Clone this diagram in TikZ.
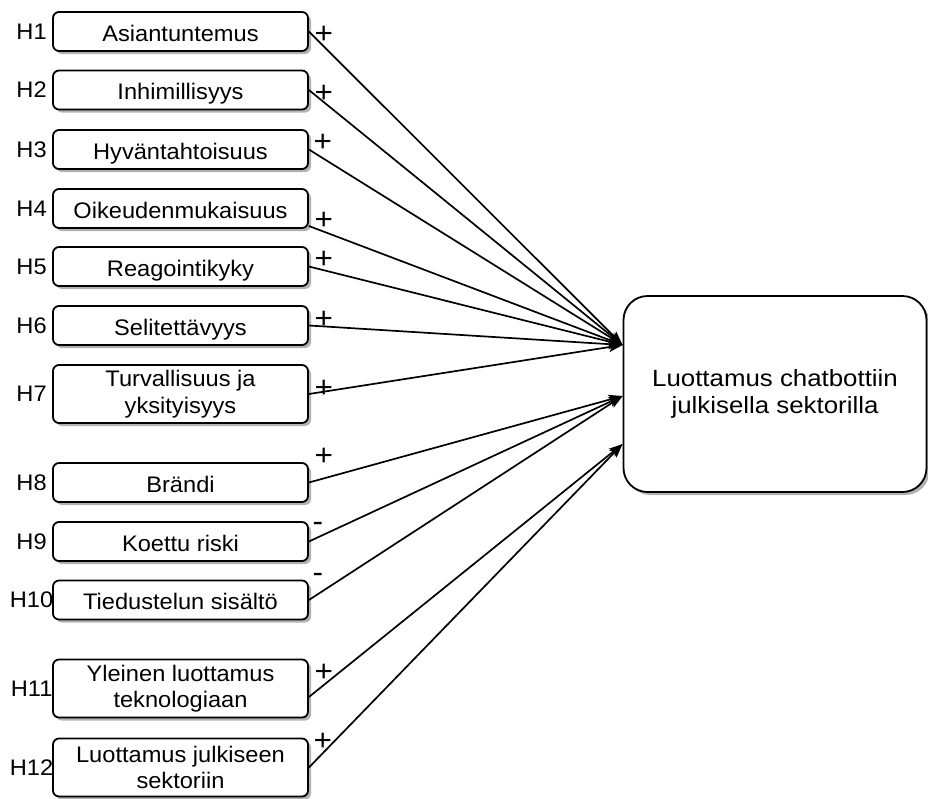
\documentclass[tikz,border=0pt]{standalone}
\usepackage{fontspec}
\setmainfont{Liberation Sans}[FakeStretch=1.05]
\newfontfamily\outcomefont{Liberation Sans}[FakeStretch=1.1]
\usetikzlibrary{arrows.meta,shadows}

\begin{document}
\begin{tikzpicture}[x=1pt,y=-1pt,
  every node/.style={font=\fontsize{22.5}{26.5}\selectfont},
  boxshadow/.style={drop shadow={shadow xshift=3pt,shadow yshift=-3pt,fill=black,opacity=0.3}},
  factor/.style={draw,rounded corners=6pt,line width=1.8pt,fill=white,
    minimum width=255pt,minimum height=39pt,align=center,inner sep=0pt,boxshadow,
    text height=24pt,text depth=5pt},
  tallfactor/.style={draw,rounded corners=6pt,line width=1.8pt,fill=white,
    minimum width=255pt,minimum height=58pt,align=center,inner sep=0pt,boxshadow},
  outcome/.style={draw,rounded corners=24pt,line width=1.8pt,fill=white,
    minimum width=303pt,minimum height=196pt,align=center,inner sep=0pt,boxshadow,
    font=\outcomefont\fontsize{23.5}{27}\selectfont},
  hyp/.style={inner sep=0pt},
  sign/.style={inner sep=0pt,font=\fontsize{30}{32}\selectfont},
  link/.style={line width=1.7pt,-{Stealth[length=14pt,width=10pt,inset=3.5pt]}}
]
\useasboundingbox (0,0) rectangle (928,798);

% factor boxes
\node[factor]     (b1)  at (180.5,31.5)  {Asiantuntemus};
\node[factor]     (b2)  at (180.5,90)    {Inhimillisyys};
\node[factor]     (b3)  at (180.5,149.5) {Hyväntahtoisuus};
\node[factor]     (b4)  at (180.5,208.5) {Oikeudenmukaisuus};
\node[factor]     (b5)  at (180.5,266.5) {Reagointikyky};
\node[factor]     (b6)  at (180.5,325.5) {Selitettävyys};
\node[tallfactor] (b7)  at (180.5,394)   {Turvallisuus ja\\yksityisyys};
\node[factor]     (b8)  at (180.5,482.5) {Brändi};
\node[factor]     (b9)  at (180.5,541.5) {Koettu riski};
\node[factor]     (b10) at (180.5,600)   {Tiedustelun sisältö};
\node[tallfactor] (b11) at (180.5,688.5) {Yleinen luottamus\\teknologiaan};
\node[tallfactor] (b12) at (180.5,767.5) {Luottamus julkiseen\\sektoriin};

% outcome box
\node[outcome] (big) at (775,394) {Luottamus chatbottiin\\julkisella sektorilla};

% hypothesis labels
\foreach \i in {1,...,12}{
  \node[hyp] (h\i) at ([xshift=-20.5pt]b\i.west) {H\i};
}

% arrow targets on the outcome box
\coordinate (t1) at ([yshift=49pt]big.west);
\coordinate (t2) at ([yshift=-2pt]big.west);
\coordinate (t3) at ([yshift=-50pt]big.west);

% connectors
\draw[link] (b1.east) -- (t1);
\draw[link] (b2.east) -- (t1);
\draw[link] (b3.east) -- (t1);
\draw[link] ([yshift=-17.5pt]b4.east) -- (t1);
\draw[link] (b5.east) -- (t1);
\draw[link] (b6.east) -- (t1);
\draw[link] (b7.east) -- (t1);
\draw[link] (b8.east) -- (t2);
\draw[link] (b9.east) -- (t2);
\draw[link] (b10.east) -- (t2);
\draw[link] ([yshift=-8.5pt]b11.east) -- (t3);
\draw[link] (b12.east) -- (t3);

% effect signs
\node[sign] (s1)  at ([shift={(15,3.5)}]b1.east)    {+};
\node[sign] (s2)  at ([shift={(15,4)}]b2.east)      {+};
\node[sign] (s3)  at ([shift={(14,-6.5)}]b3.east)   {+};
\node[sign] (s4)  at ([shift={(15,12.5)}]b4.east)   {+};
\node[sign] (s5)  at ([shift={(15,-6.5)}]b5.east)   {+};
\node[sign] (s6)  at ([shift={(15,-5.5)}]b6.east)   {+};
\node[sign] (s7)  at ([shift={(15,-5)}]b7.east)     {+};
\node[sign] (s8)  at ([shift={(15,-25.5)}]b8.east)  {+};
\node[sign] (s9)  at ([shift={(9,-14.5)}]b9.east)   {-};
\node[sign] (s10) at ([shift={(9,-22)}]b10.east)    {-};
\node[sign] (s11) at ([shift={(15,-15.5)}]b11.east) {+};
\node[sign] (s12) at ([shift={(14,-25.5)}]b12.east) {+};
\end{tikzpicture}
\end{document}
